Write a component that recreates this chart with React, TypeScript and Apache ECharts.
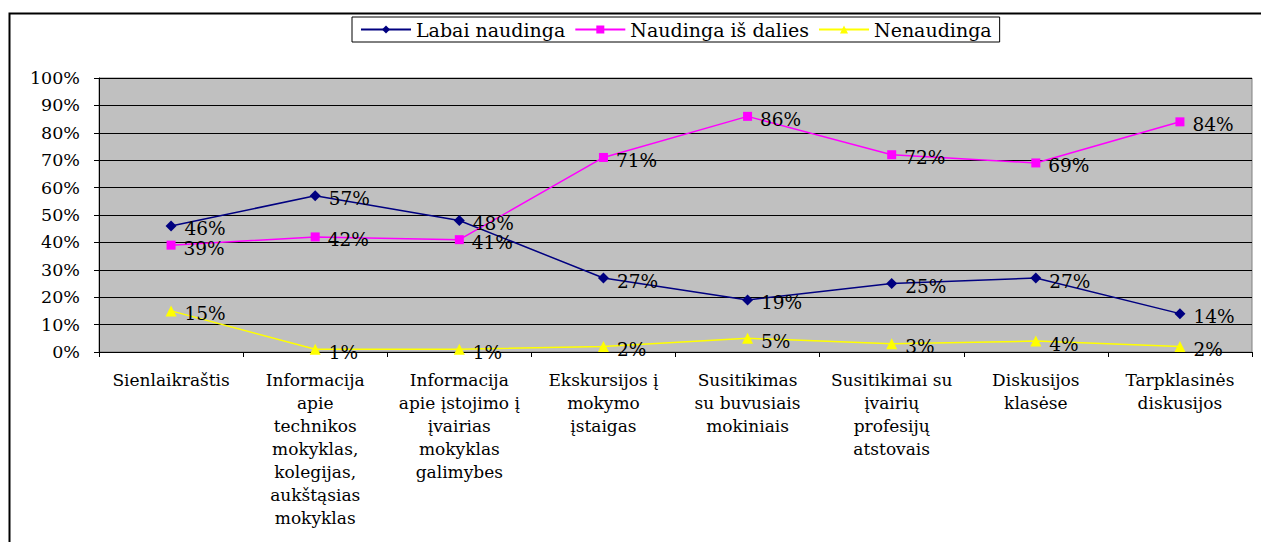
import React, { useEffect, useRef } from "react";
import * as echarts from "echarts";

const categories = [
  "Sienlaikraštis",
  "Informacija\napie\ntechnikos\nmokyklas,\nkolegijas,\naukštąsias\nmokyklas",
  "Informacija\napie įstojimo į\nįvairias\nmokyklas\ngalimybes",
  "Ekskursijos į\nmokymo\nįstaigas",
  "Susitikimas\nsu buvusiais\nmokiniais",
  "Susitikimai su\nįvairių\nprofesijų\natstovais",
  "Diskusijos\nklasėse",
  "Tarpklasinės\ndiskusijos",
];

const labaiNaudinga = [46, 57, 48, 27, 19, 25, 27, 14];
const naudingaIsDalies = [39, 42, 41, 71, 86, 72, 69, 84];
const nenaudinga = [15, 1, 1, 2, 5, 3, 4, 2];

const seriesNames = ["Labai naudinga", "Naudinga iš dalies", "Nenaudinga"];

const FONT = "DejaVu Serif";

export default function App() {
  const ref = useRef<HTMLDivElement>(null);

  useEffect(() => {
    if (!ref.current) return;
    const chart = echarts.init(ref.current, null, { renderer: "svg" });
    const labelStyle = {
      show: true,
      position: "right" as const,
      distance: 8,
      offset: [0, 3],
      formatter: "{c}%",
      color: "#000",
      fontFamily: FONT,
      fontSize: 18.5,
      lineHeight: 15,
    };
    const mk = (name: string, data: number[], color: string, symbol: string, size: number) => ({
      name,
      type: "line",
      data,
      symbol,
      symbolSize: size,
      showSymbol: true,
      lineStyle: { color, width: 1.5 },
      itemStyle: { color },
      label: labelStyle,
      z: 3,
    });
    chart.setOption({
      animation: false,
      backgroundColor: "#fff",
      textStyle: { fontFamily: FONT },
      legend: {
        data: seriesNames,
        left: 352,
        top: 17,
        padding: [3, 8],
        itemGap: 9,
        itemWidth: 50,
        itemHeight: 10,
        borderColor: "#000",
        borderWidth: 1,
        textStyle: { fontFamily: FONT, fontSize: 19, color: "#000" },
      },
      grid: {
        left: 99,
        right: 9,
        top: 78,
        bottom: 190,
        show: true,
        backgroundColor: "#C0C0C0",
        borderColor: "#808080",
        borderWidth: 1,
      },
      xAxis: {
        type: "category",
        data: categories,
        boundaryGap: true,
        axisLine: { lineStyle: { color: "#000", width: 1 } },
        axisTick: { show: true, length: 5, lineStyle: { color: "#000" } },
        axisLabel: {
          interval: 0,
          margin: 16,
          color: "#000",
          fontFamily: FONT,
          fontSize: 17,
          lineHeight: 23,
          align: "center",
        },
      },
      yAxis: {
        type: "value",
        min: 0,
        max: 100,
        interval: 10,
        axisLine: { show: true, lineStyle: { color: "#000", width: 1 } },
        axisTick: { show: true, length: 5, lineStyle: { color: "#000" } },
        axisLabel: {
          formatter: "{value}%",
          margin: 19,
          color: "#000",
          fontFamily: FONT,
          fontSize: 17.5,
        },
        splitLine: { show: true, lineStyle: { color: "#000", width: 1 } },
      },
      series: [
        mk(seriesNames[0], labaiNaudinga, "#000080", "diamond", 11),
        mk(seriesNames[1], naudingaIsDalies, "#FF00FF", "rect", 9),
        mk(seriesNames[2], nenaudinga, "#FFFF00", "triangle", 11),
      ],
      graphic: [
        {
          type: "rect",
          left: 7,
          top: 11,
          shape: { width: 1300, height: 600 },
          style: { fill: "none", stroke: "#000", lineWidth: 2 },
          silent: true,
        },
      ],
    });
    return () => chart.dispose();
  }, []);

  return (
    <div
      ref={ref}
      style={{ position: "fixed", left: 0, top: 0, width: 1261, height: 542 }}
    />
  );
}
